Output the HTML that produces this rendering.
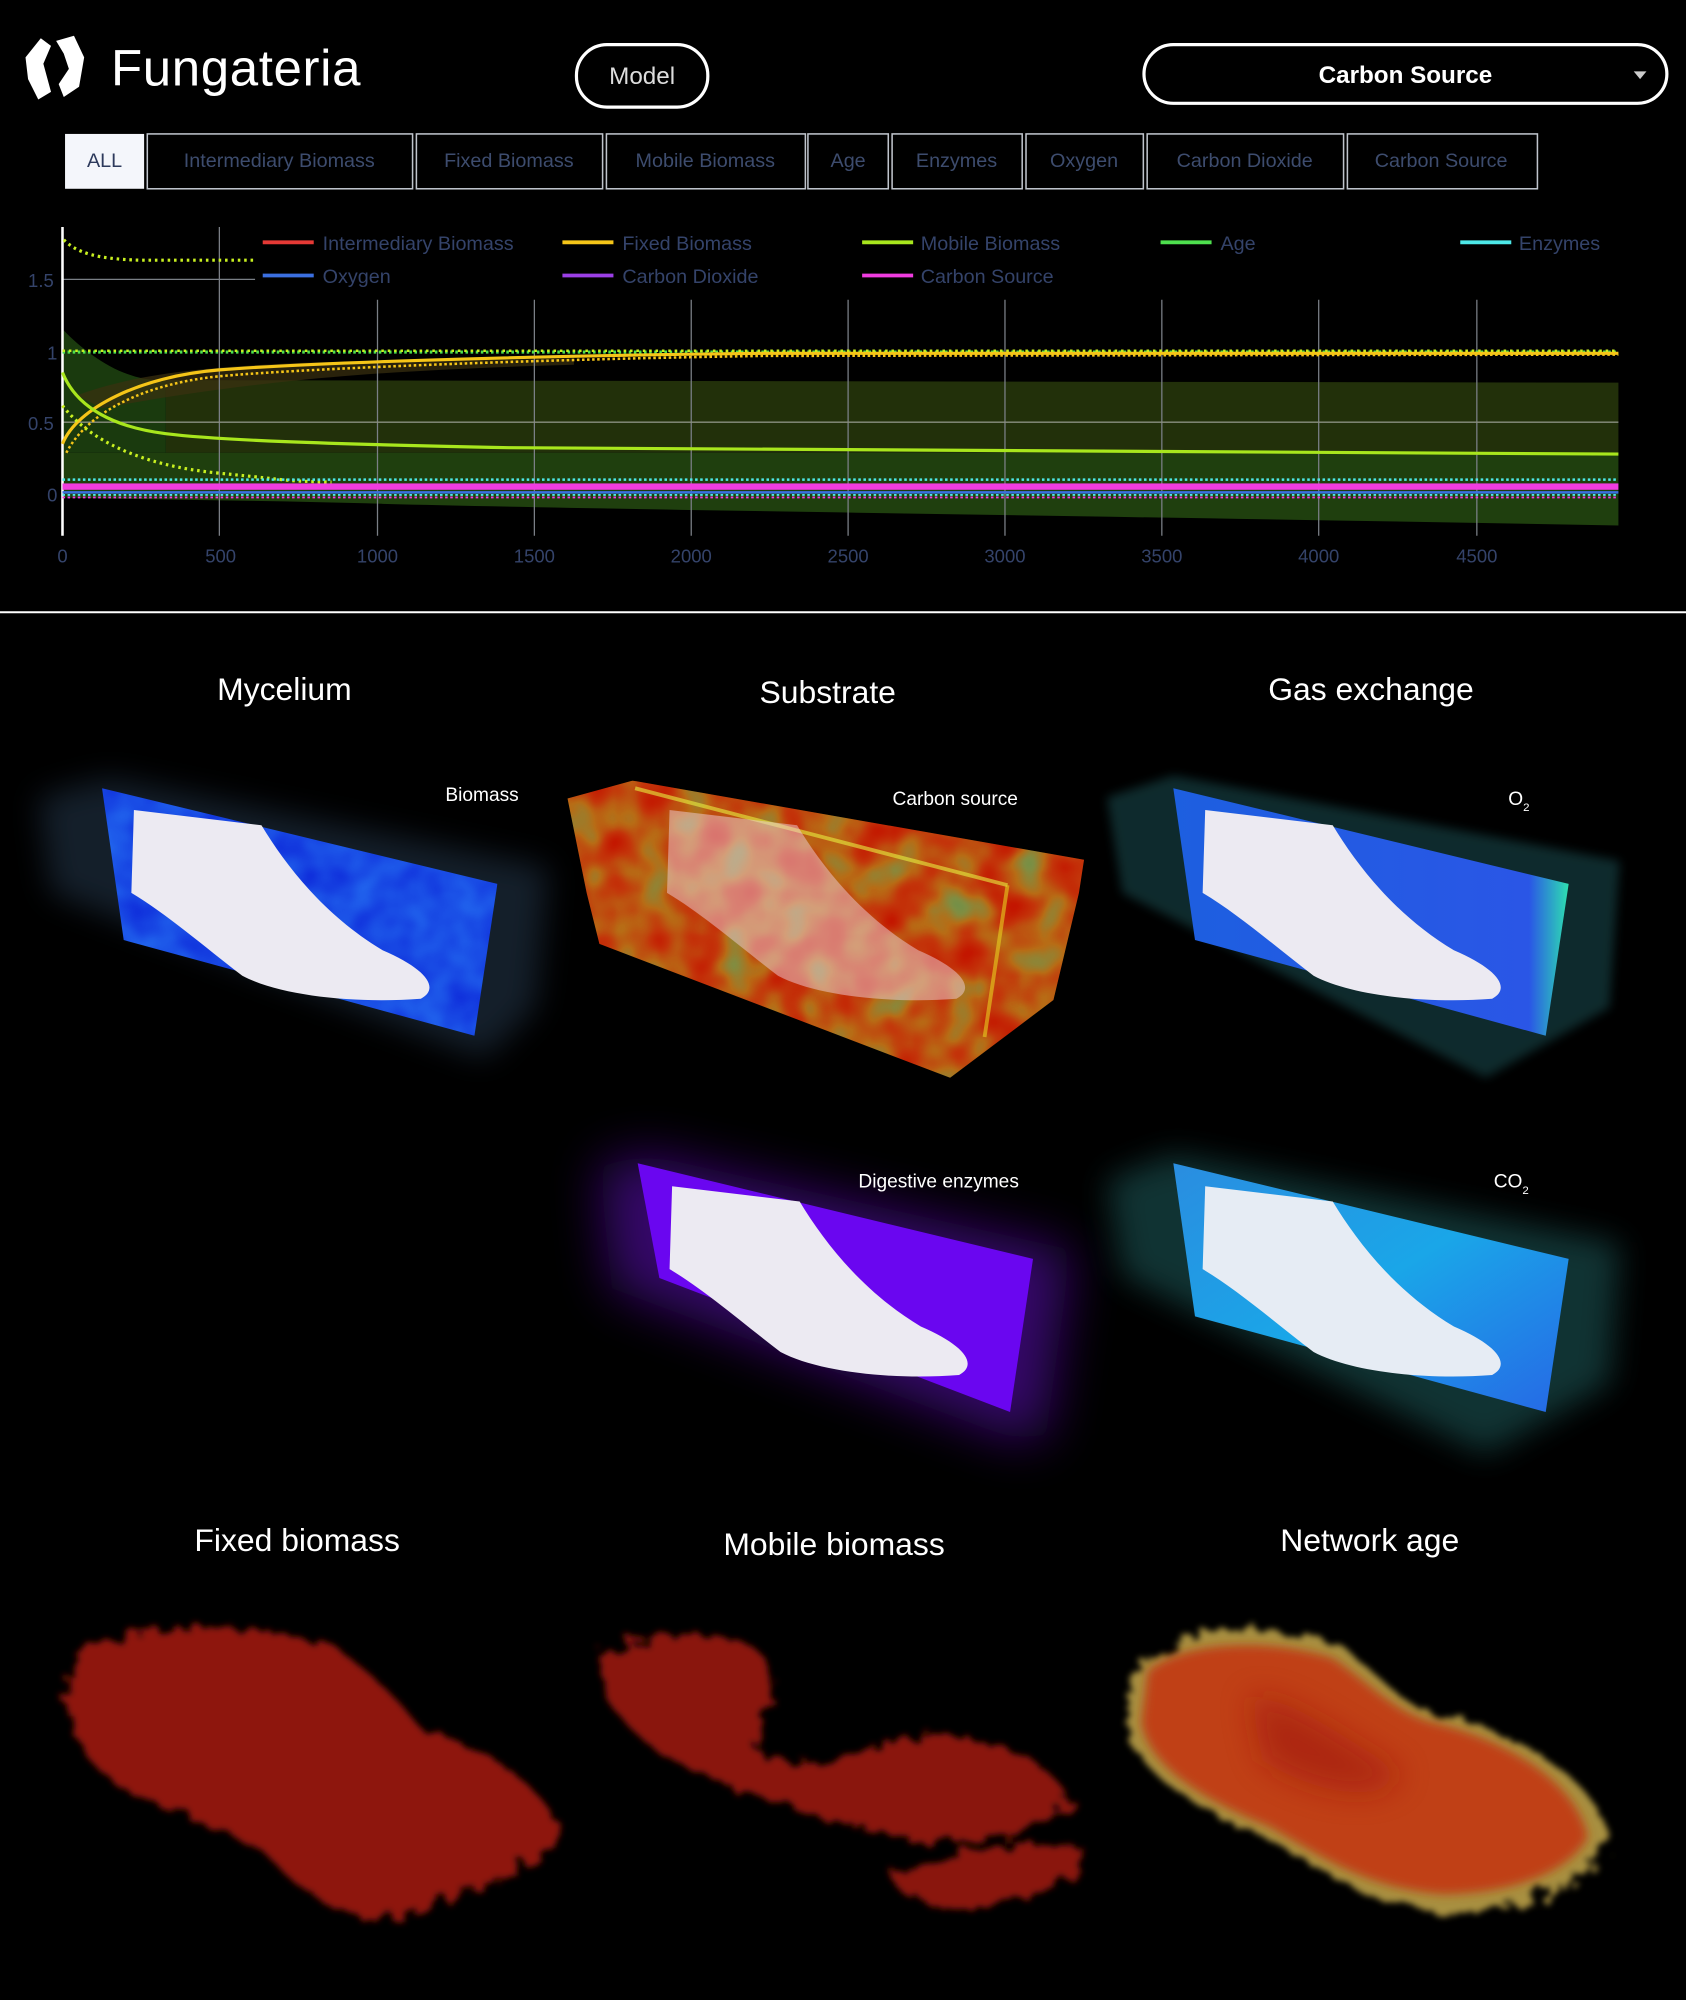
<!DOCTYPE html>
<html><head><meta charset="utf-8"><style>
html,body{margin:0;padding:0;background:#000;width:1686px;height:2000px;overflow:hidden}
svg{display:block}
text{font-family:"Liberation Sans",sans-serif}
</style></head><body>
<svg width="1686" height="2000" viewBox="0 0 1322 1568" preserveAspectRatio="none" xmlns="http://www.w3.org/2000/svg">
<defs>
<filter id="blur3" x="-30%" y="-30%" width="160%" height="160%"><feGaussianBlur stdDeviation="4"/></filter>
<filter id="blur12" x="-50%" y="-50%" width="200%" height="200%"><feGaussianBlur stdDeviation="12"/></filter>
<filter id="blur20" x="-50%" y="-50%" width="200%" height="200%"><feGaussianBlur stdDeviation="20"/></filter>
<filter id="heat" x="0" y="0" width="100%" height="100%" color-interpolation-filters="sRGB">
<feTurbulence type="fractalNoise" baseFrequency="0.03" numOctaves="2" seed="4"/>
<feColorMatrix type="matrix" values="1 0 0 0 0 1 0 0 0 0 1 0 0 0 0 0 0 0 0 1"/>
<feComponentTransfer><feFuncR type="table" tableValues="0.9 0.9 0.9 0.85 0.6 0.4"/><feFuncG type="table" tableValues="0.05 0.1 0.25 0.5 0.65 0.7"/><feFuncB type="table" tableValues="0 0 0.05 0.1 0.3 0.4"/><feFuncA type="table" tableValues="1 1"/></feComponentTransfer>
</filter>
<filter id="bluen" x="0" y="0" width="100%" height="100%" color-interpolation-filters="sRGB">
<feTurbulence type="fractalNoise" baseFrequency="0.04" numOctaves="2" seed="7"/>
<feColorMatrix type="matrix" values="1 0 0 0 0 1 0 0 0 0 1 0 0 0 0 0 0 0 0 1"/>
<feComponentTransfer><feFuncR type="table" tableValues="0.05 0.1 0.15"/><feFuncG type="table" tableValues="0.15 0.3 0.45"/><feFuncB type="table" tableValues="0.85 0.9 0.95"/><feFuncA type="table" tableValues="1 1"/></feComponentTransfer>
</filter>
<filter id="rough" x="-20%" y="-20%" width="140%" height="140%">
<feTurbulence type="fractalNoise" baseFrequency="0.08" numOctaves="3" seed="2" result="n"/>
<feDisplacementMap in="SourceGraphic" in2="n" scale="22"/>
<feGaussianBlur stdDeviation="2.5"/>
</filter>
<linearGradient id="o2" x1="0" y1="0" x2="1" y2="0"><stop offset="0" stop-color="#1d5fe0"/><stop offset="0.9" stop-color="#2a56e6"/><stop offset="1" stop-color="#2ee0b0"/></linearGradient>
<linearGradient id="co2" x1="0" y1="0" x2="1" y2="1"><stop offset="0" stop-color="#2a8de0"/><stop offset="0.5" stop-color="#1aa6e8"/><stop offset="1" stop-color="#2668e6"/></linearGradient>
<path id="foot" d="M105,635 L205,647 C225,680 255,718 300,745 C335,760 345,775 330,783 C280,787 220,781 190,765 C160,742 130,716 103,700 Z"/>
<clipPath id="subclip"><polygon points="445,626 496,612 850,674 846,700 826,784 745,845 470,740 460,700"/></clipPath>
</defs>
<rect width="1322" height="1568" fill="#000"/>

<g fill="#fff">
<path d="M20,45 L32,30 L40,36 L34,50 L40,72 L30,78 L22,62 Z"/>
<path d="M44,32 L58,28 L66,45 L62,68 L50,76 L46,66 L54,54 L50,42 Z"/>
</g>
<text x="87" y="67" font-size="40" fill="#fff" letter-spacing="0.5">Fungateria</text>
<rect x="452" y="35" width="103" height="49" rx="24" fill="#000" stroke="#fff" stroke-width="2.5"/>
<text x="503.5" y="66" font-size="19" fill="#ddd" text-anchor="middle">Model</text>
<rect x="897" y="35" width="410" height="46" rx="23" fill="#000" stroke="#fff" stroke-width="2.5"/>
<text x="1102" y="65" font-size="19" fill="#fff" text-anchor="middle" font-weight="bold">Carbon Source</text>
<path d="M1281,56 L1291,56 L1286,62 Z" fill="#ccc"/>

<g font-size="15.5" fill="#3d4c6e" text-anchor="middle">
<rect x="51" y="105" width="62" height="43" fill="#f4f6fb"/>
<text x="82" y="131" fill="#2d3a5c">ALL</text>
<g fill="none" stroke="#bfc4cc" stroke-width="1.2">
<rect x="115.5" y="105" width="208" height="43"/><rect x="326.5" y="105" width="146" height="43"/>
<rect x="475.5" y="105" width="156" height="43"/><rect x="633.5" y="105" width="63" height="43"/>
<rect x="699.5" y="105" width="102" height="43"/><rect x="804.5" y="105" width="92" height="43"/>
<rect x="899.5" y="105" width="154" height="43"/><rect x="1056.5" y="105" width="149" height="43"/>
</g>
<text x="219" y="131">Intermediary Biomass</text><text x="399" y="131">Fixed Biomass</text>
<text x="553" y="131">Mobile Biomass</text><text x="665" y="131">Age</text>
<text x="750" y="131">Enzymes</text><text x="850" y="131">Oxygen</text>
<text x="976" y="131">Carbon Dioxide</text><text x="1130" y="131">Carbon Source</text>
</g>

<g>
<path d="M130,298 L1269,300 L1269,355 L130,355 Z" fill="#22300a"/>
<path d="M49,355 L1269,355 L1269,412 C900,405 500,400 300,395 C200,392 120,392 49,390 Z" fill="#1f3f0e"/>
<path d="M49,258 C70,280 100,300 130,298 L130,355 L49,355 Z" fill="#1a3a0e"/>
<path d="M60,310 C100,296 140,288 250,284 L450,281 L450,286 C300,290 200,298 80,320 Z" fill="#3a3010" opacity="0.7"/>
<g stroke="#7a7f86" stroke-width="1">
<line x1="172" y1="178" x2="172" y2="420"/>
<line x1="296" y1="235" x2="296" y2="420"/><line x1="419" y1="235" x2="419" y2="420"/>
<line x1="542" y1="235" x2="542" y2="420"/><line x1="665" y1="235" x2="665" y2="420"/>
<line x1="788" y1="235" x2="788" y2="420"/><line x1="911" y1="235" x2="911" y2="420"/>
<line x1="1034" y1="235" x2="1034" y2="420"/><line x1="1158" y1="235" x2="1158" y2="420"/>
<line x1="49" y1="219" x2="200" y2="219"/>
<line x1="49" y1="331" x2="1269" y2="331" stroke="#8a8f80"/>
</g>
<line x1="49" y1="178" x2="49" y2="420" stroke="#fff" stroke-width="2"/>
<path d="M49,276 L1269,276" stroke="#4ee04e" stroke-width="2.5" stroke-dasharray="2,2"/>
<path d="M49,275 L1269,275" stroke="#c8f020" stroke-width="2" stroke-dasharray="2,3"/>
<path d="M49,348 C60,320 110,295 172,290 S400,279 600,277 L1269,277" stroke="#f5c518" stroke-width="2.5" fill="none"/>
<path d="M52,355 C70,320 120,300 172,295 S400,282 600,279 L1269,278" stroke="#f5c518" stroke-width="2" fill="none" stroke-dasharray="2,2"/>
<path d="M49,292 C60,320 90,335 130,340 S250,348 400,351 S800,355 1269,356" stroke="#a8e61d" stroke-width="2.5" fill="none"/>
<path d="M49,318 C70,345 110,365 172,371 S220,377 260,378" stroke="#c8f020" stroke-width="2.5" fill="none" stroke-dasharray="2,3"/>
<path d="M50,188 C60,198 75,203 110,204 L200,204" stroke="#c8f020" stroke-width="2.5" fill="none" stroke-dasharray="2,3"/>
<rect x="49" y="379" width="1220" height="5" fill="#f03ce0"/>
<path d="M49,376 L1269,376" stroke="#4de8e8" stroke-width="2" stroke-dasharray="2,2"/>
<path d="M49,386 L1269,386" stroke="#3b6fe0" stroke-width="2"/>
<path d="M49,388 L1269,388" stroke="#4de8e8" stroke-width="1.5" stroke-dasharray="2,2"/>
<path d="M49,390 L1269,390" stroke="#f03ce0" stroke-width="1.5" stroke-dasharray="2,2"/>
<g font-size="14.5" fill="#34436a">
<text x="22" y="225">1.5</text><text x="37" y="282">1</text><text x="22" y="337">0.5</text><text x="37" y="393">0</text>
<g text-anchor="middle"><text x="49" y="441">0</text><text x="173" y="441">500</text><text x="296" y="441">1000</text><text x="419" y="441">1500</text><text x="542" y="441">2000</text><text x="665" y="441">2500</text><text x="788" y="441">3000</text><text x="911" y="441">3500</text><text x="1034" y="441">4000</text><text x="1158" y="441">4500</text></g>
</g>
<g font-size="15.5" fill="#34436a" stroke-width="3">
<line x1="206" y1="190" x2="246" y2="190" stroke="#e53935"/><text x="253" y="196">Intermediary Biomass</text>
<line x1="441" y1="190" x2="481" y2="190" stroke="#f5c518"/><text x="488" y="196">Fixed Biomass</text>
<line x1="676" y1="190" x2="716" y2="190" stroke="#a8e61d"/><text x="722" y="196">Mobile Biomass</text>
<line x1="910" y1="190" x2="950" y2="190" stroke="#4ee04e"/><text x="957" y="196">Age</text>
<line x1="1145" y1="190" x2="1185" y2="190" stroke="#4de8e8"/><text x="1191" y="196">Enzymes</text>
<line x1="206" y1="216" x2="246" y2="216" stroke="#3b6fe0"/><text x="253" y="222">Oxygen</text>
<line x1="441" y1="216" x2="481" y2="216" stroke="#9b3fe6"/><text x="488" y="222">Carbon Dioxide</text>
<line x1="676" y1="216" x2="716" y2="216" stroke="#f03ce0"/><text x="722" y="222">Carbon Source</text>
</g>
</g>
<line x1="0" y1="480" x2="1322" y2="480" stroke="#fff" stroke-width="1.5"/>

<g font-size="25" fill="#fff" text-anchor="middle">
<text x="223" y="549">Mycelium</text><text x="649" y="551">Substrate</text><text x="1075" y="549">Gas exchange</text>
<text x="233" y="1216">Fixed biomass</text><text x="654" y="1219">Mobile biomass</text><text x="1074" y="1216">Network age</text>
</g>

<polygon points="30,625 85,610 430,680 420,790 380,830 40,700" fill="#3a5a7a" opacity="0.35" filter="url(#blur12)"/>
<clipPath id="pl1"><polygon points="80,618 390,693 372,812 97,737"/></clipPath>
<rect x="70" y="600" width="340" height="230" filter="url(#bluen)" clip-path="url(#pl1)"/>
<use href="#foot" fill="#eceaf2"/>
<text x="378" y="628" font-size="15" fill="#fff" text-anchor="middle">Biomass</text>

<rect x="440" y="600" width="420" height="250" filter="url(#heat)" clip-path="url(#subclip)"/>
<polygon points="445,626 496,612 850,674 846,700 826,784 745,845 470,740 460,700" fill="#000" opacity="0.15"/>
<line x1="498" y1="618" x2="790" y2="694" stroke="#e8f040" stroke-width="3" opacity="0.6"/>
<line x1="790" y1="694" x2="772" y2="813" stroke="#e8d020" stroke-width="3" opacity="0.6"/>
<use href="#foot" transform="translate(420,0)" fill="#f0d0dc" opacity="0.5"/>
<text x="749" y="631" font-size="15" fill="#fff" text-anchor="middle">Carbon source</text>

<polygon points="868,625 920,608 1270,675 1262,790 1165,845 880,700" fill="#2a7a80" opacity="0.35" filter="url(#blur3)"/>
<polygon points="920,618 1230,693 1212,812 937,737" fill="url(#o2)"/>
<use href="#foot" transform="translate(840,0)" fill="#eceaf2"/>
<text x="1191" y="631" font-size="15" fill="#fff" text-anchor="middle">O<tspan font-size="9" dy="5">2</tspan></text>

<polygon points="470,915 505,905 840,980 820,1125 800,1130 480,1010" fill="#5a10b0" opacity="0.6" filter="url(#blur20)"/>
<polygon points="500,912 810,987 792,1107 517,1002" fill="#6a06f0"/>
<use href="#foot" transform="translate(422,295)" fill="#eceaf2"/>
<text x="736" y="931" font-size="15" fill="#fff" text-anchor="middle">Digestive enzymes</text>

<polygon points="868,925 920,905 1270,975 1262,1085 1165,1140 880,1000" fill="#2a8080" opacity="0.4" filter="url(#blur12)"/>
<polygon points="920,912 1230,987 1212,1107 937,1032" fill="url(#co2)"/>
<use href="#foot" transform="translate(840,295)" fill="#e6ecf4"/>
<text x="1185" y="931" font-size="15" fill="#fff" text-anchor="middle">CO<tspan font-size="9" dy="5">2</tspan></text>

<g filter="url(#rough)">
<path d="M60,1300 C90,1270 200,1270 260,1290 C290,1310 310,1330 330,1355 C380,1370 430,1400 440,1440 C420,1470 360,1480 320,1500 C280,1510 240,1490 210,1455 C180,1430 120,1420 80,1390 C50,1360 45,1320 60,1300 Z" fill="#8e140c"/>
<path d="M470,1300 C500,1275 580,1275 600,1300 C620,1330 580,1360 600,1380 C640,1390 680,1370 720,1360 C780,1360 820,1380 840,1410 C820,1440 760,1450 700,1440 C650,1430 610,1410 570,1400 C520,1380 470,1350 470,1300 Z" fill="#8a140c"/>
<path d="M700,1470 C740,1450 810,1440 850,1450 C845,1480 800,1490 760,1495 C720,1495 700,1485 700,1470 Z" fill="#8a140c"/>
<path d="M890,1310 C920,1275 1000,1270 1050,1290 C1080,1310 1100,1340 1130,1345 C1180,1355 1250,1390 1262,1440 C1250,1480 1190,1500 1130,1500 C1070,1495 1030,1460 990,1440 C940,1420 890,1390 882,1350 Z" fill="#a89040"/>
</g>
<path d="M900,1310 C930,1285 1000,1285 1045,1300 C1075,1320 1095,1345 1130,1352 C1180,1365 1235,1395 1245,1440 C1230,1470 1180,1485 1130,1485 C1070,1480 1035,1455 995,1432 C945,1412 900,1385 895,1350 Z" fill="#c04018" filter="url(#blur3)"/>
<path d="M980,1330 C1010,1330 1050,1360 1100,1390 C1080,1420 1020,1400 990,1380 Z" fill="#a01810" opacity="0.6" filter="url(#blur12)"/>
</svg>
</body></html>
